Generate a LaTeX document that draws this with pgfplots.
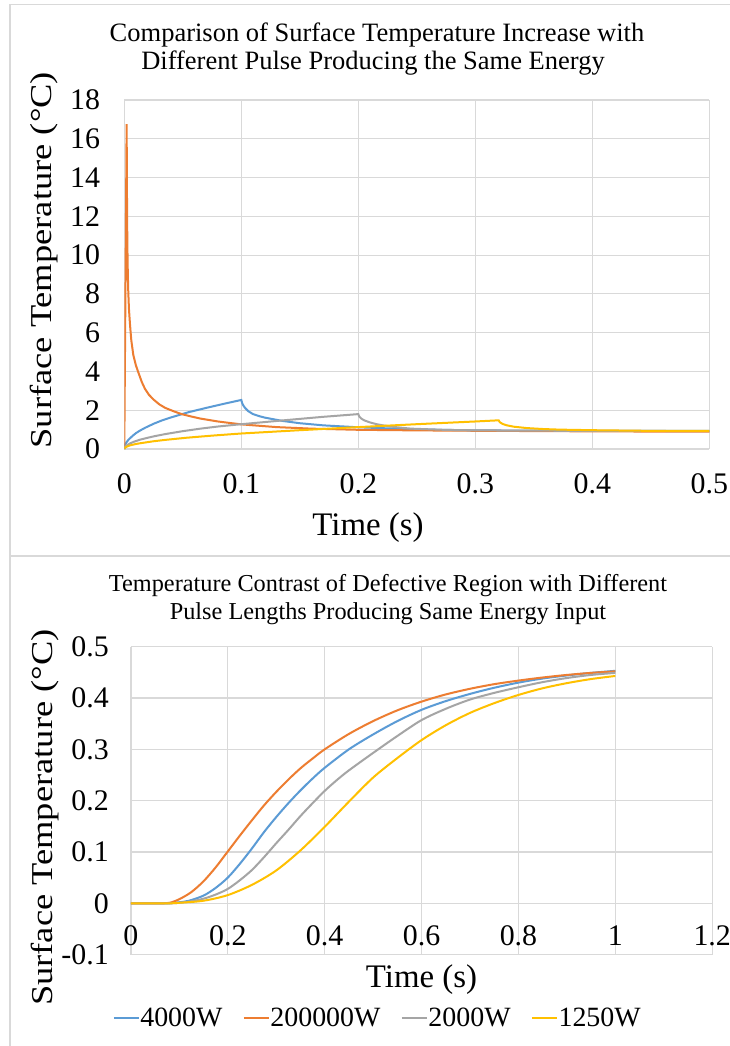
\documentclass[border=0pt]{standalone}
\usepackage{fontspec}
\setmainfont{Liberation Serif}
\newfontfamily\ylabfont{Liberation Serif}[FakeStretch=1.2]
\usepackage{pgfplots}
\pgfplotsset{compat=1.18}
\definecolor{cblue}{HTML}{5B9BD5}
\definecolor{corange}{HTML}{ED7D31}
\definecolor{cgray}{HTML}{A5A5A5}
\definecolor{cgold}{HTML}{FFC000}
\definecolor{gridc}{HTML}{D9D9D9}
\pgfplotsset{
  every axis/.append style={
    scale only axis,
    axis line style={draw=none},
    grid=major,
    major grid style={gridc, line width=1.2bp},
    major tick length=0pt,
    /pgf/number format/assume math mode=true,
    ticklabel style={font=\fontsize{30}{32}\selectfont, inner sep=0pt},
    xlabel style={font=\fontsize{33}{35}\selectfont, inner sep=0pt},
    ylabel style={font=\ylabfont\fontsize{30.5}{33}\selectfont, inner sep=0pt},
  },
  every axis plot/.append style={line width=2bp, no markers},
}
\begin{document}
\begin{tikzpicture}
\useasboundingbox (0,0) rectangle (730bp,-1046bp);
\fill[white] (0,0) rectangle (730bp,-1046bp);
% frames
\draw[gridc, line width=1.2bp] (10bp,-1046bp) -- (10bp,-4.5bp) -- (731bp,-4.5bp);
\draw[gridc, line width=1.2bp] (10bp,-556bp) -- (731bp,-556bp);
% ---------------- top chart
\begin{axis}[
  at={(124.3bp,-449bp)}, anchor=south west,
  width=585bp, height=349bp,
  xmin=0, xmax=0.5, ymin=0, ymax=18,
  xtick={0,0.1,0.2,0.3,0.4,0.5}, ytick={0,2,4,6,8,10,12,14,16,18},
  xticklabel style={anchor=north, yshift=-24bp},
  yticklabel style={anchor=east, xshift=-24bp},
  xlabel={Time (s)},
  xlabel style={at={(axis description cs:0.4166,0)}, anchor=base, yshift=-86bp},
  ylabel={Surface Temperature (°C)},
  ylabel style={at={(axis description cs:-0.1236,0.541)}, anchor=base},
]
\addplot[cblue] coordinates {
(0,0) (0.0005,0.18) (0.001,0.26) (0.002,0.36) (0.0035,0.47) (0.005,0.56) (0.0075,0.7)
(0.01,0.82) (0.0134,0.95) (0.018,1.1) (0.025,1.3) (0.032,1.47) (0.04,1.63)
(0.055,1.9) (0.07,2.12) (0.085,2.33) (0.1,2.53)
(0.1005,2.42) (0.101,2.33) (0.102,2.22) (0.1035,2.1) (0.106,1.95) (0.11,1.8)
(0.115,1.7) (0.12,1.62) (0.135,1.45) (0.15,1.33)
(0.17,1.22) (0.2,1.12) (0.25,1.01) (0.3,0.96) (0.4,0.935) (0.5,0.93)};
\addplot[corange] coordinates {
(0,0) (0.002,16.75) (0.0023,13) (0.0026,10.6) (0.003,9.1) (0.0034,8.1) (0.004,7.2)
(0.0049,6.4) (0.006,5.6) (0.0077,4.85) (0.01,4.3) (0.012,3.95) (0.015,3.45)
(0.0177,3.1) (0.021,2.8) (0.025,2.55) (0.03,2.3) (0.035,2.12) (0.042,1.95) (0.049,1.8)
(0.057,1.68) (0.065,1.57) (0.08,1.42) (0.1,1.27)
(0.13,1.13) (0.16,1.05) (0.2,0.99) (0.25,0.96) (0.3,0.94) (0.4,0.91) (0.5,0.89)};
\addplot[cgray] coordinates {
(0,0) (0.0005,0.09) (0.001,0.13) (0.002,0.18) (0.0035,0.24) (0.005,0.29) (0.008,0.37)
(0.0134,0.48) (0.02,0.58) (0.025,0.65) (0.035,0.77) (0.05,0.92) (0.065,1.05)
(0.08,1.16) (0.1,1.28) (0.12,1.39) (0.14,1.5) (0.17,1.66) (0.2,1.8)
(0.2005,1.72) (0.201,1.66) (0.2028,1.56) (0.205,1.48) (0.21,1.37) (0.215,1.29)
(0.22,1.23) (0.23,1.14) (0.245,1.05) (0.273,0.99)
(0.3,0.96) (0.35,0.945) (0.4,0.935) (0.5,0.925)};
\addplot[cgold] coordinates {
(0,0) (0.0005,0.06) (0.001,0.085) (0.002,0.12) (0.005,0.19) (0.01,0.26) (0.015,0.31)
(0.025,0.4) (0.035,0.47) (0.053,0.58) (0.075,0.69) (0.1,0.8) (0.15,0.97)
(0.2,1.13) (0.25,1.28) (0.3,1.42) (0.32,1.48)
(0.3205,1.42) (0.3215,1.36) (0.3235,1.29) (0.327,1.22) (0.333,1.15) (0.344,1.08)
(0.358,1.03) (0.372,1.0) (0.4,0.97) (0.444,0.94) (0.5,0.93)};
\end{axis}
% ---------------- bottom chart
\begin{axis}[
  at={(130.9bp,-954.6bp)}, anchor=south west,
  width=581.3bp, height=307.9bp,
  xmin=0, xmax=1.2, ymin=-0.1, ymax=0.5,
  xtick={0,0.2,0.4,0.6,0.8,1,1.2}, ytick={-0.1,0,0.1,0.2,0.3,0.4,0.5},
  xticklabel style={anchor=north, yshift=29bp},
  yticklabel style={anchor=east, xshift=-22bp},
  xlabel={Time (s)},
  xlabel style={at={(axis description cs:0.5,0)}, anchor=base, yshift=-32.4bp},
  ylabel={Surface Temperature (°C)},
  ylabel style={at={(axis description cs:-0.1357,0.445)}, anchor=base},
  legend columns=4,
  legend style={draw=none, fill=none, at={(axis description cs:0.4234,-0.207)}, anchor=center,
    font=\fontsize{28}{30}\selectfont,
    /tikz/every even column/.append style={column sep=20bp},
    nodes={inner sep=0.5bp}},
  legend image code/.code={\draw[#1] (0bp,0bp) -- (25bp,0bp);},
]
\addplot[cblue, smooth] coordinates {
(0,0) (0.05,0) (0.08,0) (0.1,0.002) (0.12,0.005) (0.15,0.015) (0.175,0.03) (0.2,0.05)
(0.225,0.077) (0.25,0.107) (0.275,0.139) (0.3,0.168) (0.325,0.195) (0.35,0.22)
(0.375,0.243) (0.4,0.264) (0.45,0.3)
(0.5,0.329) (0.55,0.355) (0.6,0.377) (0.65,0.394) (0.7,0.408) (0.75,0.42) (0.8,0.43)
(0.85,0.438) (0.9,0.444) (0.95,0.449) (1.0,0.453)};
\addlegendentry{4000W}
\addplot[corange, smooth] coordinates {
(0,0) (0.06,0) (0.08,0.001) (0.1,0.008) (0.125,0.022) (0.15,0.043) (0.175,0.07) (0.2,0.101)
(0.225,0.132) (0.25,0.162) (0.275,0.191) (0.3,0.217) (0.325,0.241) (0.35,0.263)
(0.375,0.282) (0.4,0.3) (0.45,0.33)
(0.5,0.355) (0.55,0.376) (0.6,0.393) (0.65,0.407) (0.7,0.418) (0.75,0.427) (0.8,0.434)
(0.85,0.44) (0.9,0.445) (0.95,0.449) (1.0,0.452)};
\addlegendentry{200000W}
\addplot[cgray, smooth] coordinates {
(0,0) (0.08,0) (0.1,0.001) (0.125,0.004) (0.15,0.009) (0.175,0.017) (0.2,0.028) (0.225,0.045)
(0.25,0.065) (0.275,0.09) (0.3,0.117) (0.325,0.143) (0.35,0.17) (0.375,0.195) (0.4,0.219)
(0.425,0.24) (0.45,0.259) (0.5,0.293) (0.55,0.326) (0.6,0.357) (0.65,0.379) (0.7,0.397)
(0.75,0.41) (0.8,0.421) (0.85,0.431) (0.9,0.439) (0.95,0.445) (1.0,0.449)};
\addlegendentry{2000W}
\addplot[cgold, smooth] coordinates {
(0,0) (0.08,0) (0.1,0.001) (0.15,0.005) (0.2,0.016) (0.25,0.036) (0.3,0.064) (0.35,0.103)
(0.4,0.149) (0.45,0.198) (0.5,0.245) (0.55,0.283) (0.6,0.318) (0.65,0.347) (0.7,0.371)
(0.75,0.39) (0.8,0.406) (0.85,0.419) (0.9,0.429) (0.95,0.437) (1.0,0.443)};
\addlegendentry{1250W}
\end{axis}
% titles
\node[anchor=base, font=\fontsize{26.6}{28}\selectfont] at (377bp,-41bp) {Comparison of Surface Temperature Increase with};
\node[anchor=base, font=\fontsize{26.6}{28}\selectfont] at (373bp,-69bp) {Different Pulse Producing the Same Energy};
\node[anchor=base, font=\fontsize{24.4}{26}\selectfont] at (388bp,-591bp) {Temperature Contrast of Defective Region with Different};
\node[anchor=base, font=\fontsize{24.4}{26}\selectfont] at (388bp,-619bp) {Pulse Lengths Producing Same Energy Input};
\end{tikzpicture}
\end{document}
